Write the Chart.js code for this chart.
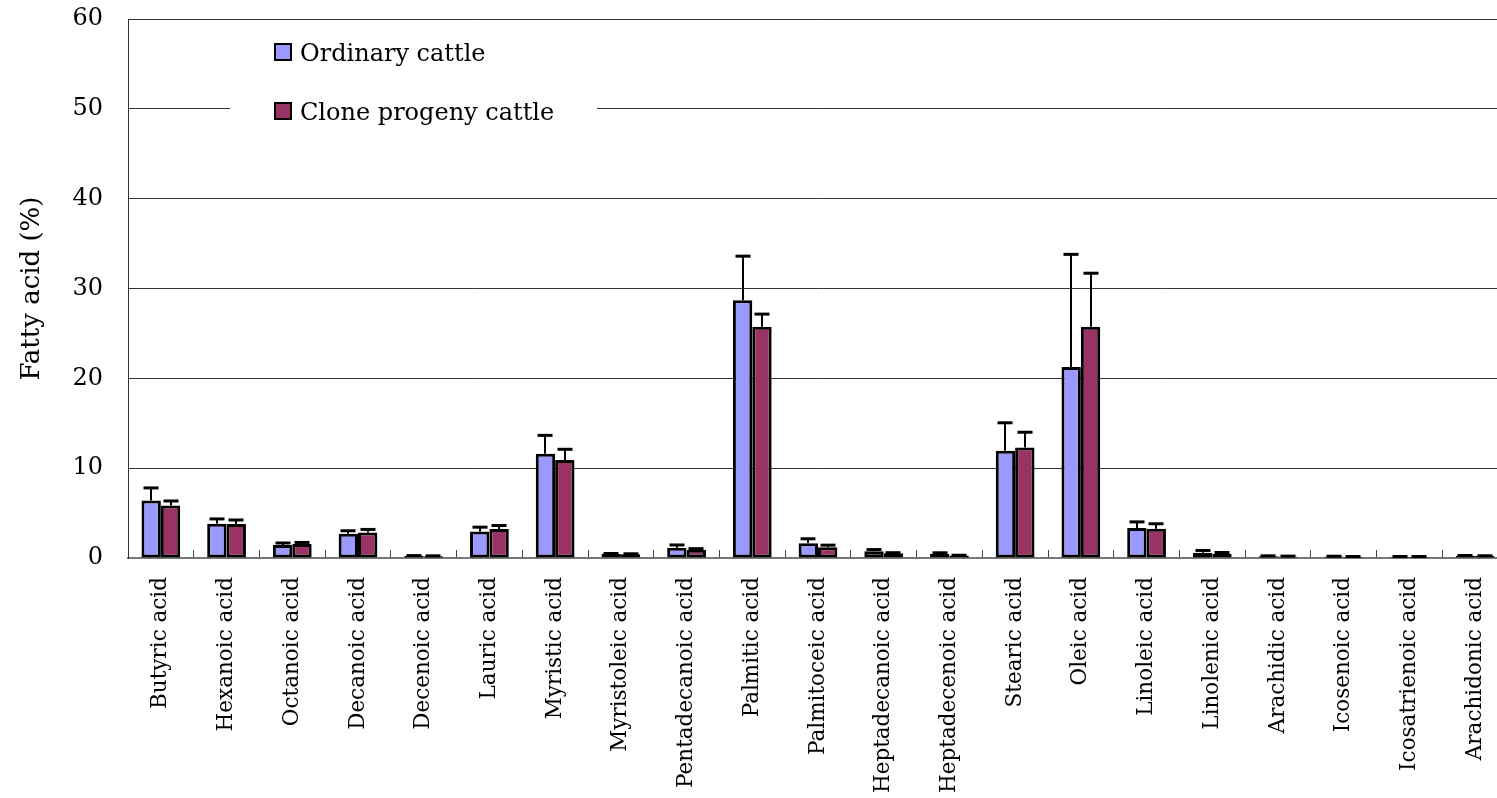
<!DOCTYPE html>
<html>
<head>
<meta charset="utf-8">
<title>Fatty acid composition</title>
<script src="https://cdn.jsdelivr.net/npm/chart.js@4/dist/chart.umd.min.js"></script>
<style>
  html, body { margin: 0; padding: 0; background: #fff; overflow: hidden; }
  #wrap { position: relative; width: 1508px; height: 798px; }
  canvas { display: block; }
</style>
</head>
<body>
<div id="wrap"><canvas id="chart" width="1508" height="798"></canvas></div>
<script>
// Fatty acid composition (%), mean and standard deviation per group
const categories = [
  'Butyric acid', 'Hexanoic acid', 'Octanoic acid', 'Decanoic acid', 'Decenoic acid',
  'Lauric acid', 'Myristic acid', 'Myristoleic acid', 'Pentadecanoic acid', 'Palmitic acid',
  'Palmitoceic acid', 'Heptadecanoic acid', 'Heptadecenoic acid', 'Stearic acid', 'Oleic acid',
  'Linoleic acid', 'Linolenic acid', 'Arachidic acid', 'Icosenoic acid', 'Icosatrienoic acid',
  'Arachidonic acid'
];
const ordinaryMean = [6.4, 3.8, 1.45, 2.7, 0.22, 2.95, 11.6, 0.45, 1.15, 28.7, 1.65, 0.75, 0.45, 11.95, 21.25, 3.35, 0.58, 0.2, 0.17, 0.15, 0.24];
const ordinarySD   = [1.4, 0.55, 0.22, 0.33, 0.05, 0.48, 2.05, 0.05, 0.3, 4.9, 0.49, 0.19, 0.13, 3.1, 12.55, 0.67, 0.26, 0.04, 0.03, 0.02, 0.04];
const cloneMean    = [5.85, 3.78, 1.55, 2.85, 0.2, 3.22, 10.9, 0.43, 0.93, 25.75, 1.2, 0.52, 0.28, 12.3, 25.75, 3.25, 0.47, 0.18, 0.15, 0.15, 0.22];
const cloneSD      = [0.5, 0.45, 0.18, 0.33, 0.04, 0.4, 1.2, 0.04, 0.11, 1.4, 0.23, 0.07, 0.03, 1.7, 5.95, 0.56, 0.14, 0.03, 0.02, 0.02, 0.03];
const seriesNames  = ['Ordinary cattle', 'Clone progeny cattle'];
const yTickValues  = [0, 10, 20, 30, 40, 50, 60];

const SERIF = "'DejaVu Serif', 'Liberation Serif', serif";
const sdBySeries = [ordinarySD, cloneSD];

// Upward error bars (mean + SD) with a cap, placed on each bar
const errorBars = {
  id: 'errorBars',
  afterDatasetsDraw(chart) {
    const { ctx } = chart;
    const yScale = chart.scales.y;
    ctx.save();
    ctx.strokeStyle = '#000';
    chart.data.datasets.forEach((ds, di) => {
      const meta = chart.getDatasetMeta(di);
      const sd = sdBySeries[di];
      meta.data.forEach((bar, i) => {
        const top = yScale.getPixelForValue(ds.data[i] + sd[i]);
        const x = Math.round(bar.x);
        ctx.lineWidth = 2;
        ctx.beginPath();
        ctx.moveTo(x, bar.y);
        ctx.lineTo(x, top);
        ctx.stroke();
        ctx.lineWidth = 3;
        ctx.beginPath();
        ctx.moveTo(x - 7.5, top);
        ctx.lineTo(x + 7.5, top);
        ctx.stroke();
      });
    });
    ctx.restore();
  }
};

// Boxed legend sitting inside the plot, over the gridlines
const legendPanel = {
  id: 'legendPanel',
  beforeDatasetsDraw(chart, args, opts) {
    const { ctx } = chart;
    ctx.save();
    ctx.fillStyle = '#fff';
    ctx.fillRect(opts.left, opts.top, opts.width, opts.height);
    ctx.font = opts.fontSize + 'px ' + SERIF;
    ctx.textBaseline = 'alphabetic';
    ctx.textAlign = 'left';
    chart.data.datasets.forEach((ds, i) => {
      const baseY = opts.firstBaseline + i * opts.rowGap;
      const boxTop = baseY - opts.box;
      ctx.fillStyle = ds.backgroundColor;
      ctx.fillRect(opts.boxX, boxTop, opts.box, opts.box);
      ctx.lineWidth = 2;
      ctx.strokeStyle = '#000';
      ctx.strokeRect(opts.boxX + 1, boxTop + 1, opts.box - 2, opts.box - 2);
      ctx.fillStyle = '#000';
      ctx.fillText(ds.label, opts.textX, baseY);
    });
    ctx.restore();
  }
};

// Keep the plot area fixed: no extra room reserved for edge labels
function clearScalePadding(scale) {
  scale.paddingLeft = 0;
  scale.paddingRight = 0;
  scale.paddingTop = 0;
  scale.paddingBottom = 0;
}

new Chart(document.getElementById('chart'), {
  type: 'bar',
  data: {
    labels: categories,
    datasets: [
      {
        label: seriesNames[0],
        data: ordinaryMean,
        backgroundColor: '#9999FF',
        borderColor: '#000',
        borderWidth: 3,
        borderSkipped: false
      },
      {
        label: seriesNames[1],
        data: cloneMean,
        backgroundColor: '#993366',
        borderColor: '#000',
        borderWidth: 3,
        borderSkipped: false
      }
    ]
  },
  options: {
    responsive: false,
    animation: false,
    events: [],
    layout: { padding: { top: 19, left: 0, right: 0, bottom: 0 }, autoPadding: false },
    datasets: { bar: { categoryPercentage: 0.59, barPercentage: 1.0 } },
    plugins: {
      legend: { display: false },
      tooltip: { enabled: false },
      legendPanel: {
        left: 230, top: 30, width: 367, height: 108,
        boxX: 274, box: 18, textX: 300,
        firstBaseline: 61, rowGap: 59, fontSize: 24
      }
    },
    scales: {
      x: {
        offset: true,
        ticks: {
          autoSkip: false,
          maxRotation: 90,
          minRotation: 90,
          padding: 27,
          color: '#000',
          font: { family: SERIF, size: 21.5 }
        },
        grid: {
          display: true,
          offset: true,
          drawOnChartArea: false,
          drawTicks: true,
          tickLength: -8,
          color: '#444',
          lineWidth: 1
        },
        border: { display: true, color: '#777', width: 2 },
        afterFit(scale) { scale.height = 240; clearScalePadding(scale); }
      },
      y: {
        min: 0,
        max: 60,
        afterBuildTicks(scale) { scale.ticks = yTickValues.map(v => ({ value: v })); },
        ticks: {
          padding: 25,
          color: '#000',
          font: { family: SERIF, size: 24 }
        },
        grid: { color: '#333', lineWidth: 1, drawTicks: false },
        border: { display: true, color: '#333', width: 1 },
        title: {
          display: true,
          text: 'Fatty acid (%)',
          color: '#000',
          font: { family: SERIF, size: 26 },
          padding: { top: 17, bottom: 0 }
        },
        afterFit(scale) { scale.width = 128; clearScalePadding(scale); }
      }
    }
  },
  plugins: [legendPanel, errorBars]
});
</script>
</body>
</html>
